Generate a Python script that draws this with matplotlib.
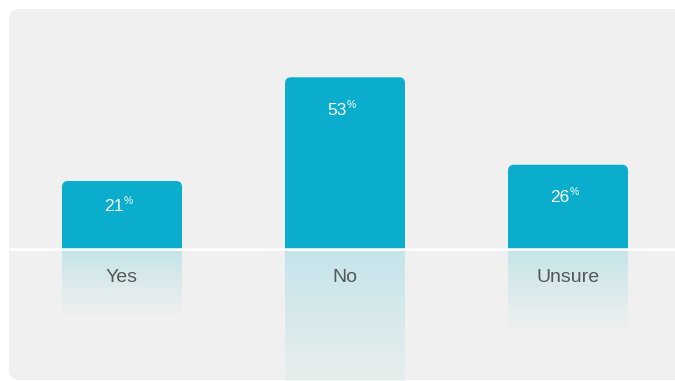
import matplotlib.pyplot as plt
from matplotlib.patches import FancyBboxPatch
import numpy as np

categorias = ['Yes', 'No', 'Unsure']
valores = [21, 53, 26]
rotulos = ['21', '53', '26']

cor_barra = '#0AADCC'
cor_fundo = '#EFF0EF'
cor_reflexo = np.array([0.77, 0.895, 0.915])

plt.rcParams['font.family'] = ['Liberation Sans', 'DejaVu Sans']

W, H = 675, 381
fig = plt.figure(figsize=(W / 100, H / 100), dpi=100)
fig.patch.set_facecolor('white')

# painel cinza arredondado (coordenadas em pixels da figura)
painel = FancyBboxPatch((9 / W, 1 / H), 700 / W, 371 / H,
                        boxstyle='round,pad=0,rounding_size=0.015',
                        transform=fig.transFigure, facecolor=cor_fundo,
                        edgecolor='none', mutation_aspect=W / H, zorder=-5)
fig.patches.append(painel)

ax = fig.add_axes([0, 0, 1, 1])
ax.set_facecolor('none')
ax.axis('off')

px_x = 223.0          # pixels por categoria
px_y = 3.24           # pixels por ponto percentual
x0, base = 122.0, 249.0
xlim = (-x0 / px_x, (W - x0) / px_x)
ylim = (-(H - base) / px_y, base / px_y)

largura = 120 / px_x
raio_x = 6 / px_x
aspecto = (1 / px_y) / (1 / px_x)

x = np.arange(len(categorias))

for i, v in enumerate(valores):
    esq = x[i] - largura / 2
    # barra com cantos superiores arredondados
    ax.bar(x[i], v - 3, width=largura, color=cor_barra, bottom=0)
    ax.add_patch(FancyBboxPatch((esq, 0), largura, v,
                                boxstyle='round,pad=0,rounding_size=%f' % raio_x,
                                mutation_aspect=aspecto, facecolor=cor_barra,
                                edgecolor='none'))

    # reflexo com degradê
    prof = v
    n = 200
    grad = np.zeros((n, 1, 4))
    alfa = np.linspace(1.0, 0.0, n) ** 1.2
    grad[:, 0, :3] = cor_reflexo
    grad[:, 0, 3] = alfa
    ax.imshow(grad, extent=(esq, esq + largura, -prof, -0.9), aspect='auto',
              interpolation='bilinear', zorder=1)

    # rótulo de valor com % sobrescrito
    desce = min(38, 0.44 * v * px_y) / px_y
    ax.annotate(rotulos[i], (x[i], v - desce), color='white', fontsize=12.5,
                ha='right', va='baseline', xytext=(1, 0), textcoords='offset points')
    ax.annotate('%', (x[i], v - desce), color='white', fontsize=7.5,
                ha='left', va='baseline', xytext=(1.5, 5), textcoords='offset points')

    ax.text(x[i], -33 / px_y, categorias[i], color='#525757', fontsize=14,
            ha='center', va='baseline', zorder=3)

# linha de base branca
ax.plot([(9 - x0) / px_x, xlim[1]], [0, 0],
        color='white', lw=1.8, solid_capstyle='butt', zorder=4)

ax.set_xlim(xlim)
ax.set_ylim(ylim)

plt.savefig('out.png', dpi=100)
